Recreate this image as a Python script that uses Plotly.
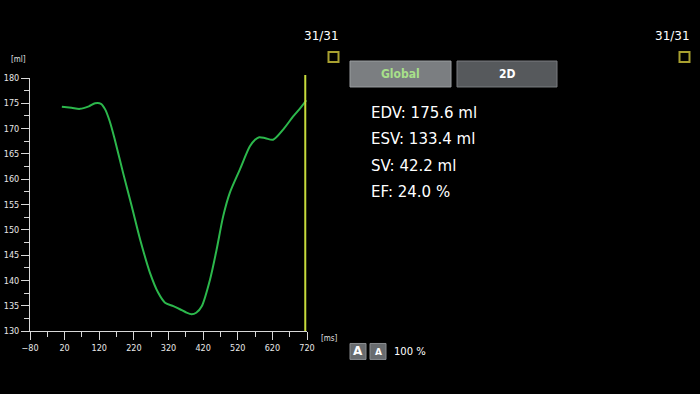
import plotly.graph_objects as go

# ---- data ----
time_ms = [12, 40, 64, 90, 108, 125, 137, 150, 165, 189, 214, 238, 266, 290, 310, 334, 353,
           370, 387, 400, 416, 440, 459, 478, 497, 526, 555, 570, 582, 600, 622, 651, 680, 700, 718]
volume_ml = [174.3, 174.1, 173.9, 174.4, 175.0, 174.9, 173.8, 171.5, 167.8, 161.2, 154.6, 148.1,
             141.6, 137.6, 135.6, 134.9, 134.3, 133.7, 133.3, 133.6, 134.9, 140.2, 146.1, 152.7,
             157.3, 161.9, 166.5, 167.8, 168.3, 168.1, 167.8, 169.8, 172.4, 174.0, 175.6]
marker_time = 715
x_ticks = [-80, 20, 120, 220, 320, 420, 520, 620, 720]
y_ticks = [130, 135, 140, 145, 150, 155, 160, 165, 170, 175, 180]
stats = ["EDV: 175.6 ml", "ESV: 133.4 ml", "SV: 42.2 ml", "EF: 24.0 %"]
frame_label = "31/31"

W, H = 700, 394
L, R, T, B = 30, 307, 78, 331.5

def px(x):
    return (x - L) / (R - L)

def py(y):
    return (B - y) / (B - T)

fig = go.Figure()
fig.add_trace(go.Scatter(x=time_ms, y=volume_ml, mode="lines",
                         line=dict(color="#2cb84c", width=2, shape="spline", smoothing=0.8),
                         hoverinfo="skip", showlegend=False))

axis_col = "#d8d8d8"
tick_font = dict(family="DejaVu Sans Condensed, DejaVu Sans", size=9, color="#e8e8e8")

fig.update_xaxes(range=[-80, 720], tickvals=x_ticks, ticks="outside", ticklen=8, tickcolor=axis_col,
                 showline=True, linecolor=axis_col, linewidth=1, showgrid=False, zeroline=False,
                 tickfont=tick_font, automargin=False,
                 minor=dict(tickvals=[x + 50 for x in x_ticks[:-1]], ticklen=5, ticks="outside",
                            tickcolor=axis_col, showgrid=False))
fig.update_yaxes(range=[130, 180], tickvals=y_ticks, ticks="outside", ticklen=8, tickcolor=axis_col,
                 showline=True, linecolor=axis_col, linewidth=1, showgrid=False, zeroline=False,
                 tickfont=tick_font, automargin=False,
                 minor=dict(tickvals=[y + 2.5 for y in y_ticks[:-1]], ticklen=5, ticks="outside",
                            tickcolor=axis_col, showgrid=False))

shapes = []
shapes.append(dict(type="line", xref="x", yref="paper", x0=marker_time, x1=marker_time,
                   y0=0, y1=py(75), line=dict(color="#c8dc3c", width=2)))
# small yellow squares
for cx in (333.5, 684.5):
    shapes.append(dict(type="rect", xref="paper", yref="paper", x0=px(cx - 5), x1=px(cx + 5),
                       y0=py(62), y1=py(52), line=dict(color="#a8a030", width=2),
                       fillcolor="rgba(0,0,0,0)"))
# buttons
shapes.append(dict(type="rect", xref="paper", yref="paper", x0=px(350), x1=px(451), y0=py(87), y1=py(61),
                   line=dict(color="#9a9da0", width=1), fillcolor="#7b7e81"))
shapes.append(dict(type="rect", xref="paper", yref="paper", x0=px(457), x1=px(557), y0=py(87), y1=py(61),
                   line=dict(color="#7a7d80", width=1), fillcolor="#56595c"))
shapes.append(dict(type="rect", xref="paper", yref="paper", x0=px(350), x1=px(366), y0=py(360), y1=py(344),
                   line=dict(color="#8a8d90", width=1), fillcolor="#686b6e"))
shapes.append(dict(type="rect", xref="paper", yref="paper", x0=px(370), x1=px(386), y0=py(360), y1=py(344),
                   line=dict(color="#8a8d90", width=1), fillcolor="#686b6e"))

ann = []
def text(x, y, s, size, color="#ffffff", xanchor="left", family="DejaVu Sans", bold=False):
    if bold:
        s = "<b>" + s + "</b>"
    ann.append(dict(xref="paper", yref="paper", x=px(x), y=py(y), text=s, showarrow=False,
                    xanchor=xanchor, yanchor="middle", font=dict(family=family, size=size, color=color)))

text(18, 59, "[ml]", 8, "#e0e0e0", "center", "DejaVu Sans Condensed, DejaVu Sans")
text(329, 339, "[ms]", 8, "#e0e0e0", "center", "DejaVu Sans Condensed, DejaVu Sans")
text(341, 36, frame_label, 12, "#ffffff", "right")
text(692, 36, frame_label, 12, "#ffffff", "right")
text(400.5, 74, "Global", 12, "#a8e08a", "center", "DejaVu Sans Condensed, DejaVu Sans", True)
text(507, 74, "2D", 12, "#ffffff", "center", "DejaVu Sans Condensed, DejaVu Sans", True)
for i, s in enumerate(stats):
    text(369, 113 + i * 26.5, s, 15)
text(358, 352, "A", 12, "#ffffff", "center", bold=True)
text(378, 353, "A", 9, "#ffffff", "center", bold=True)
text(392, 352, "100 %", 10)

fig.update_layout(width=W, height=H, margin=dict(l=L, r=W - R, t=T, b=H - B),
                  paper_bgcolor="#000000", plot_bgcolor="#000000",
                  shapes=shapes, annotations=ann, showlegend=False)

fig.write_html("out.html")
